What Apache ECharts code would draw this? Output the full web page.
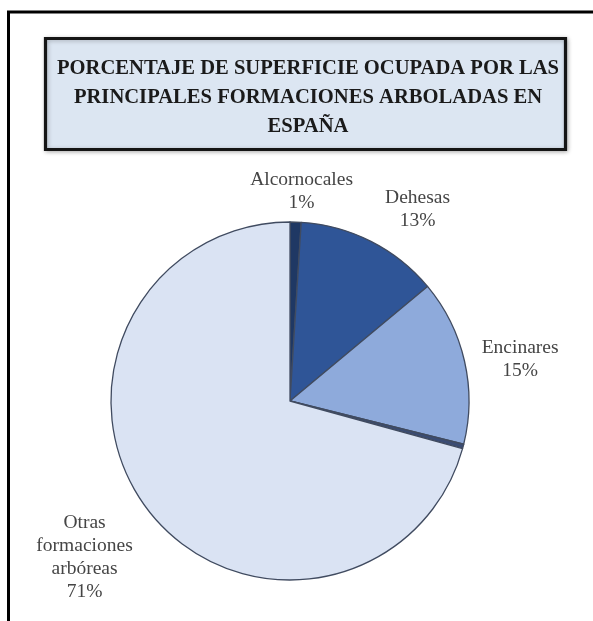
<!DOCTYPE html>
<html>
<head>
<meta charset="utf-8">
<script src="https://cdn.jsdelivr.net/npm/echarts@6/dist/echarts.min.js"></script>
<style>
  html, body { margin: 0; padding: 0; background: #ffffff; }
  #chart { width: 593px; height: 621px; }
</style>
</head>
<body>
<div id="chart"></div>
<script>
// Superficie ocupada por las principales formaciones arboladas (%)
const categories = ['Alcornocales', 'Dehesas', 'Encinares', '', 'Otras\nformaciones\narbóreas'];
const values = [1, 13, 15, 0.4, 71];
const showLabel = [true, true, true, false, true];
const titleLines = [
  'PORCENTAJE DE SUPERFICIE OCUPADA POR LAS',
  'PRINCIPALES FORMACIONES ARBOLADAS EN',
  'ESPAÑA'
];

const sliceColors = ['#1f3864', '#2f5597', '#8eaadb', '#3a4c74', '#dae3f3'];
const pieCenter = [290, 401];
const pieRadius = 179;
// label placement: distance from the pie centre along the slice bisector, plus a small nudge
const labelDistance = [210, 229, 234, 0, 257];
const labelNudge = [[5, 0], [24, 13], [2, 11], [0, 0], [-1, 1]];

const total = values.reduce((a, b) => a + b, 0);
const midAngles = [];
let acc = 0;
values.forEach(v => {
  midAngles.push((acc + v / 2) / total * 2 * Math.PI);
  acc += v;
});

const chart = echarts.init(document.getElementById('chart'), null, { renderer: 'canvas' });

const serif = '"Liberation Serif", "DejaVu Serif", serif';

chart.setOption({
  backgroundColor: '#ffffff',
  animation: false,
  graphic: [
    { type: 'line', shape: { x1: 7, y1: 12, x2: 593, y2: 12 }, style: { stroke: '#000', lineWidth: 3 } },
    { type: 'line', shape: { x1: 8.5, y1: 12, x2: 8.5, y2: 621 }, style: { stroke: '#000', lineWidth: 3 } },
    {
      type: 'rect', z: 1,
      shape: { x: 45.5, y: 38.5, width: 520, height: 111 },
      style: { fill: '#dce6f2', stroke: '#151515', lineWidth: 3.2,
               shadowBlur: 4, shadowOffsetX: 1, shadowOffsetY: 1, shadowColor: 'rgba(0,0,0,0.25)' }
    }
  ],
  title: {
    text: titleLines.join('\n'),
    left: 303, top: 93,
    textAlign: 'center', textVerticalAlign: 'middle',
    z: 10,
    textStyle: {
      fontFamily: serif, fontWeight: 'bold', fontSize: 20.6,
      lineHeight: 29, color: '#1a1a1a'
    }
  },
  series: [{
    type: 'pie',
    center: pieCenter,
    radius: pieRadius,
    startAngle: 90,
    clockwise: true,
    silent: true,
    avoidLabelOverlap: false,
    itemStyle: { borderColor: '#404b60', borderWidth: 1.3 },
    label: {
      show: true,
      position: 'outside',
      formatter: p => p.name + '\n' + p.value + '%',
      fontFamily: serif, fontSize: 19.5, lineHeight: 23,
      color: '#454545'
    },
    labelLine: { show: false },
    labelLayout: params => {
      const i = params.dataIndex;
      const a = midAngles[i];
      const d = labelDistance[i];
      return {
        x: pieCenter[0] + d * Math.sin(a) + labelNudge[i][0],
        y: pieCenter[1] - d * Math.cos(a) + labelNudge[i][1],
        align: 'center',
        verticalAlign: 'middle'
      };
    },
    data: values.map((v, i) => ({
      name: categories[i],
      value: v,
      itemStyle: { color: sliceColors[i] },
      label: { show: showLabel[i] }
    }))
  }]
});
</script>
</body>
</html>
